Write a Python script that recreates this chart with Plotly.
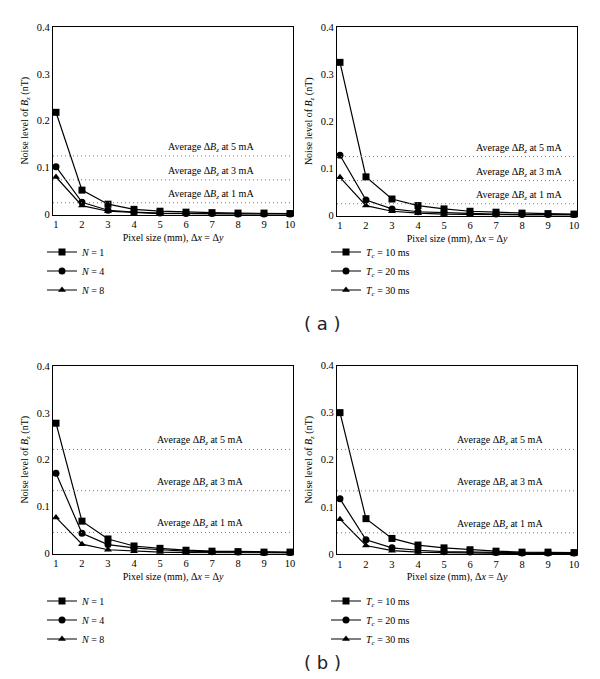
import plotly.graph_objects as go

# ---------------- data ----------------
pixel_size = [1, 2, 3, 4, 5, 6, 7, 8, 9, 10]

a_left_N1 = [0.218, 0.052, 0.022, 0.011, 0.007, 0.005, 0.004, 0.003, 0.003, 0.002]
a_left_N4 = [0.102, 0.026, 0.009, 0.005, 0.003, 0.002, 0.002, 0.001, 0.001, 0.001]
a_left_N8 = [0.080, 0.019, 0.007, 0.004, 0.002, 0.002, 0.001, 0.001, 0.001, 0.001]

a_right_T10 = [0.325, 0.082, 0.035, 0.021, 0.014, 0.009, 0.007, 0.005, 0.004, 0.003]
a_right_T20 = [0.128, 0.033, 0.014, 0.008, 0.006, 0.004, 0.003, 0.002, 0.002, 0.002]
a_right_T30 = [0.081, 0.021, 0.009, 0.005, 0.003, 0.002, 0.002, 0.001, 0.001, 0.001]

b_left_N1 = [0.278, 0.069, 0.031, 0.016, 0.011, 0.007, 0.005, 0.004, 0.003, 0.003]
b_left_N4 = [0.171, 0.043, 0.019, 0.012, 0.008, 0.005, 0.004, 0.003, 0.002, 0.002]
b_left_N8 = [0.077, 0.020, 0.008, 0.005, 0.003, 0.002, 0.002, 0.001, 0.001, 0.001]

b_right_T10 = [0.300, 0.075, 0.033, 0.019, 0.013, 0.009, 0.006, 0.004, 0.004, 0.003]
b_right_T20 = [0.117, 0.030, 0.013, 0.008, 0.005, 0.004, 0.003, 0.002, 0.002, 0.002]
b_right_T30 = [0.074, 0.018, 0.007, 0.004, 0.003, 0.002, 0.001, 0.001, 0.001, 0.001]

a_avg_levels = [0.125, 0.074, 0.025]
b_avg_levels = [0.222, 0.134, 0.045]
avg_currents = ["5", "3", "1"]

N_labels = ["<i>N</i> = 1", "<i>N</i> = 4", "<i>N</i> = 8"]
T_labels = ["<i>T<sub>c</sub></i> = 10 ms", "<i>T<sub>c</sub></i> = 20 ms", "<i>T<sub>c</sub></i> = 30 ms"]

y_ticks = [0, 0.1, 0.2, 0.3, 0.4]
y_ticktext = ["0", "0.1", "0.2", "0.3", "0.4"]

# ---------------- style ----------------
W, H = 600, 679
SERIF = "Liberation Serif"
symbols = ["square", "circle", "triangle-up"]

def px_x(p):
    return p / W

def px_y(p):
    return 1 - p / H

panels = [
    # (series, labels, avg levels, axis id, domain x px, domain y px, legend id, legend pos, annotation x)
    ([a_left_N1, a_left_N4, a_left_N8], N_labels, a_avg_levels, "", (53, 293), (27, 214.5), "legend", (42, 271), 6.95),
    ([a_right_T10, a_right_T20, a_right_T30], T_labels, a_avg_levels, "2", (337, 577), (27, 215.5), "legend2", (326, 271), 7.9),
    ([b_left_N1, b_left_N4, b_left_N8], N_labels, b_avg_levels, "3", (53, 293), (366, 553.5), "legend3", (42, 620), 6.55),
    ([b_right_T10, b_right_T20, b_right_T30], T_labels, b_avg_levels, "4", (337, 577), (365.5, 554), "legend4", (326, 620), 7.15),
]

fig = go.Figure()
layout = dict(
    width=W, height=H,
    margin=dict(l=0, r=0, t=0, b=0, autoexpand=False),
    paper_bgcolor="white", plot_bgcolor="white",
    font=dict(family=SERIF, size=10, color="black"),
    showlegend=True,
    shapes=[], annotations=[],
)

for series, labels, levels, ax, dx, dy, leg, legpos, ann_x in panels:
    xa = "x" + ax
    ya = "y" + ax
    for vals, name, sym in zip(series, labels, symbols):
        fig.add_trace(go.Scatter(
            x=pixel_size, y=vals, name=name, mode="lines+markers",
            xaxis=xa, yaxis=ya, legend=leg,
            line=dict(color="black", width=1.2),
            marker=dict(symbol=sym, size=7, color="black"),
            cliponaxis=False,
        ))
    layout["xaxis" + ax] = dict(
        domain=[px_x(dx[0]), px_x(dx[1])],
        anchor=ya, range=[0.885, 10.115], automargin=False,
        tickvals=pixel_size, ticks="", showgrid=False, zeroline=False,
        showline=True, linecolor="black", linewidth=1.3, mirror=True,
        tickfont=dict(family=SERIF, size=10.5, color="black"),
        title=dict(text="Pixel size (mm), Δ<i>x</i> = Δ<i>y</i>",
                   font=dict(family=SERIF, size=10), standoff=4),
    )
    layout["yaxis" + ax] = dict(
        domain=[px_y(dy[1]), px_y(dy[0])],
        anchor=xa, range=[0, 0.4], automargin=False,
        tickvals=y_ticks, ticktext=y_ticktext, ticks="",
        showgrid=False, zeroline=False,
        showline=True, linecolor="black", linewidth=1.3, mirror=True,
        tickfont=dict(family=SERIF, size=10.5, color="black"),
        title=dict(text="Noise level of <i>B<sub>z</sub></i> (nT)",
                   font=dict(family=SERIF, size=10), standoff=6),
    )
    layout[leg] = dict(
        x=px_x(legpos[0]), y=px_y(legpos[1]), xanchor="left", yanchor="middle",
        bgcolor="rgba(0,0,0,0)", borderwidth=0,
        font=dict(family=SERIF, size=10, color="black"),
        tracegroupgap=0,
    )
    for lvl, cur in zip(levels, avg_currents):
        layout["shapes"].append(dict(
            type="line", xref=xa + " domain", yref=ya,
            x0=0, x1=1, y0=lvl, y1=lvl,
            line=dict(color="#777777", width=1, dash="1px,3px"),
        ))
        layout["annotations"].append(dict(
            text=f"Average Δ<i>B<sub>z</sub></i> at {cur} mA",
            xref=xa, yref=ya, x=ann_x, y=lvl,
            xanchor="center", yanchor="bottom", yshift=0,
            showarrow=False, font=dict(family=SERIF, size=10, color="black"),
        ))

for lab, ypix in [("( a )", 323), ("( b )", 662)]:
    layout["annotations"].append(dict(
        text=lab, xref="paper", yref="paper", x=px_x(322), y=px_y(ypix),
        xanchor="center", yanchor="middle", showarrow=False,
        font=dict(family="DejaVu Sans", size=18, color="#222222"),
    ))

fig.update_layout(**layout)
fig.write_html(
    "out.html",
    config={"displayModeBar": False},
    post_script="document.body.style.margin='0';document.body.style.overflow='hidden';",
)
